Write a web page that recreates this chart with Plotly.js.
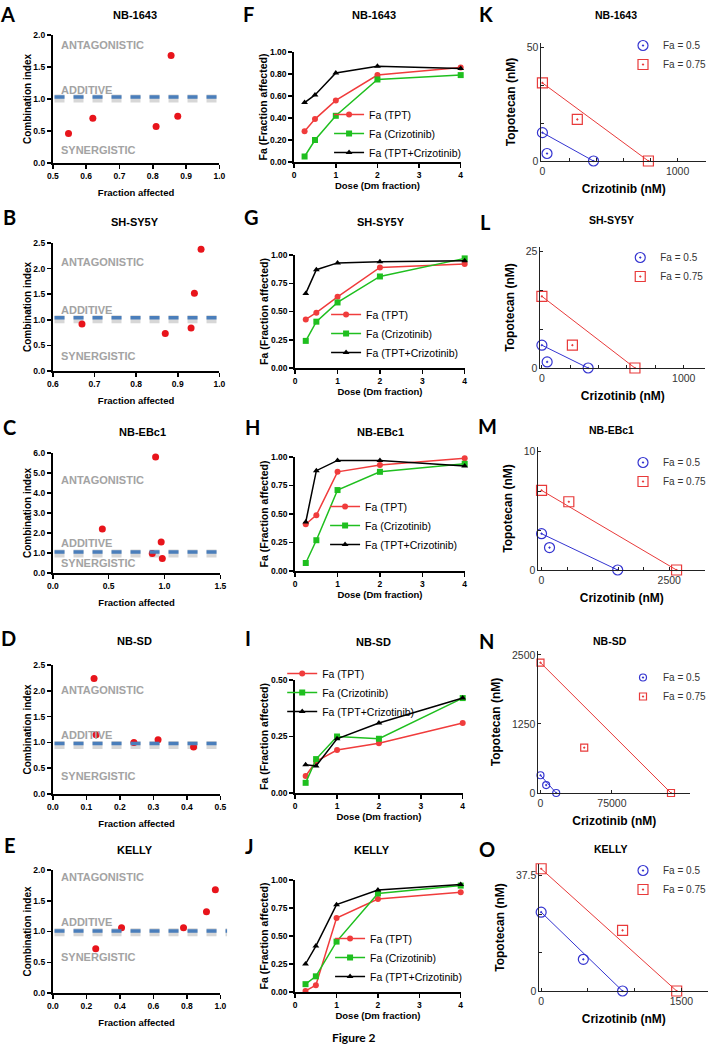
<!DOCTYPE html>
<html><head><meta charset="utf-8">
<script src="https://cdn.plot.ly/plotly-3.0.1.min.js"></script>
<style>html,body{margin:0;padding:0;background:#fff}#chart{width:711px;height:1050px}</style>
</head><body><div id="chart"></div>
<script>
// ================= DATA =================
const cellLines = ["NB-1643","SH-SY5Y","NB-EBc1","NB-SD","KELLY"];
const panelLetters = ["A","B","C","D","E","F","G","H","I","J","K","L","M","N","O"];
const zoneLabels = ["ANTAGONISTIC","ADDITIVE","SYNERGISTIC"];

// A–E : combination index vs fraction affected
const ciFa_A = [0.547,0.62,0.81,0.855,0.875];
const ci_A   = [0.46,0.70,0.57,1.68,0.73];
const ciFa_B = [0.67,0.87,0.932,0.94,0.956];
const ci_B   = [0.92,0.73,0.84,1.52,2.38];
const ciFa_C = [0.443,0.89,0.92,0.97,0.98];
const ci_C   = [2.2,0.97,5.8,1.55,0.72];
const ciFa_D = [0.123,0.129,0.242,0.314,0.42];
const ci_D   = [2.24,1.15,1.0,1.05,0.91];
const ciFa_E = [0.256,0.41,0.78,0.917,0.97];
const ci_E   = [0.72,1.06,1.06,1.32,1.68];
const additiveLevel = [1.03,1.04,1.05,0.98,1.01];

// F–J : Fa vs dose (Dm fraction)
const doseDm = [0.25,0.5,1,2,4];
const faTPT_F   = [0.28,0.39,0.56,0.79,0.86];
const faCriz_F  = [0.05,0.20,0.42,0.75,0.79];
const faCombo_F = [0.54,0.61,0.81,0.87,0.85];
const faTPT_G   = [0.43,0.49,0.63,0.89,0.92];
const faCriz_G  = [0.24,0.41,0.58,0.81,0.97];
const faCombo_G = [0.66,0.87,0.93,0.94,0.95];
const faTPT_H   = [0.41,0.49,0.87,0.93,0.99];
const faCriz_H  = [0.07,0.27,0.71,0.87,0.94];
const faCombo_H = [0.43,0.88,0.97,0.97,0.92];
const faTPT_I   = [0.075,0.14,0.19,0.22,0.31];
const faCriz_I  = [0.045,0.15,0.25,0.24,0.42];
const faCombo_I = [0.125,0.12,0.24,0.31,0.42];
const faTPT_J   = [0.01,0.06,0.66,0.83,0.89];
const faCriz_J  = [0.07,0.14,0.45,0.88,0.95];
const faCombo_J = [0.25,0.41,0.78,0.91,0.96];
const seriesNames = ["Fa (TPT)","Fa (Crizotinib)","Fa (TPT+Crizotinib)"];

// K–O : isobolograms (crizotinib nM, topotecan nM)
const isoCriz50_K = [0,34,378],    isoTopo50_K = [12.5,3.3,0];
const isoCriz75_K = [0,258,784],   isoTopo75_K = [34.4,18.3,0];
const isoCriz50_L = [0,37,326],    isoTopo50_L = [4.9,1.3,0];
const isoCriz75_L = [0,215,656],   isoTopo75_L = [15.4,4.9,0];
const isoCriz50_M = [0,156,1491],  isoTopo50_M = [3.07,1.9,0];
const isoCriz75_M = [0,534,2643],  isoTopo75_M = [6.73,5.77,0];
const isoCriz50_N = [0,5960,16500],  isoTopo50_N = [321,143,0];
const isoCriz75_N = [0,45900,137000],isoTopo75_N = [2360,821,0];
const isoCriz50_O = [0,451,871],   isoTopo50_O = [25.6,10.3,0];
const isoCriz75_O = [0,871,1450],  isoTopo75_O = [39.7,19.7,0];
const isoNames = ["Fa = 0.5","Fa = 0.75"];

// ================= LAYOUT HELPERS =================
const W=711,H=1050;
const xd=(a,b)=>[a/W,b/W];
const yd=(t,b)=>[1-b/H,1-t/H];
const px=x=>x/W, py=y=>1-y/H;
const FONT='Liberation Sans, Arial, sans-serif';
const LETTERFONT='Lato, Liberation Sans, sans-serif';

// plot boxes [left,right,top,bottom] in px
const boxes=[
 [53,220,35,163],[53,220,243,371],[53,221,453,573],[53,221,665,794],[53,221,870,993],
 [295,462,52,162],[296,466,255,368],[296,466,457,571],[296,464,680,793],[296,462,880,992],
 [543,708,43,161],[542,707,247,368],[540,707,447,570],[540,692,651,793],[541,710,864,991]
];
const titlePos=[[135,15],[135,222],[143,432],[135,641],[135,850],
 [375,15],[382,222],[382,432],[375,642],[373,850],
 [618,15],[613,220],[613,430],[612,641],[612,849]];
const letterPos=[[8,0],[10,217],[10,427],[9,638],[10,845],
 [249,0],[252,217],[253,427],[249,638],[250,846],
 [487,0],[487,222],[489,426],[488,641],[488,849]];

const data=[], annotations=[], shapes=[];
const layout={width:W,height:H,margin:{l:0,r:0,t:0,b:0},paper_bgcolor:'#fff',plot_bgcolor:'#fff',
  showlegend:true,font:{family:FONT,color:'#000'},hovermode:false};

const key=(n,a)=>n===1?a+'axis':a+'axis'+n;
const ref=(n,a)=>n===1?a:a+n;

function boldAxis(n,range,dtick,fmt,title,tsize,xy,standoff){
  const box=boxes[n-1];
  return {
    domain: xy==='x'?xd(box[0],box[1]):yd(box[2],box[3]),
    anchor: ref(n,xy==='x'?'y':'x'),
    range:range, dtick:dtick, tick0:0, tickformat:fmt,
    showline:true, linewidth:2, linecolor:'#000', ticks:'outside', ticklen:4, tickwidth:1.5, tickcolor:'#000',
    showgrid:false, zeroline:false, fixedrange:true,
    tickfont:{family:FONT,size:8.5,color:'#000',weight:'bold'},
    title:{text:title,font:{family:FONT,size:tsize,color:'#000',weight:'bold'},standoff:standoff}
  };
}

// ---------- A–E ----------
const ciX=[ciFa_A,ciFa_B,ciFa_C,ciFa_D,ciFa_E];
const ciY=[ci_A,ci_B,ci_C,ci_D,ci_E];
const ciXRange=[[0.5,1],[0.6,1],[0,1.5],[0,0.5],[0,1]];
const ciXStep=[0.1,0.1,0.5,0.1,0.2];
const ciYRange=[[0,2],[0,2.5],[0,6],[0,2.5],[0,2]];
const ciYStep=[0.5,0.5,1,0.5,0.5];
const zoneY=[[1.84,1.14,0.2],[2.13,1.2,0.29],[4.63,1.5,0.52],[2.02,1.14,0.35],[1.88,1.15,0.58]];
const lineEnd=[1,1,0.98,1,1.04];
for(let i=0;i<5;i++){
  const n=i+1;
  layout[key(n,'x')]=boldAxis(n,ciXRange[i],ciXStep[i],'.1f','Fraction affected',9.5,'x',9);
  layout[key(n,'y')]=boldAxis(n,ciYRange[i],ciYStep[i],'.1f','Combination index',10,'y',0);
  data.push({type:'scatter',mode:'markers',x:ciX[i],y:ciY[i],xaxis:ref(n,'x'),yaxis:ref(n,'y'),
    marker:{color:'#e8141b',size:7},showlegend:false,cliponaxis:false});
  // additive reference line (with soft shadow)
  shapes.push({type:'line',xref:ref(n,'x')+' domain',yref:ref(n,'y'),x0:0.01,x1:lineEnd[i],
    y0:additiveLevel[i]-(ciYRange[i][1]*0.012),y1:additiveLevel[i]-(ciYRange[i][1]*0.012),
    line:{color:'rgba(110,110,110,0.28)',width:8,dash:'10px,9px'},layer:'below'});
  shapes.push({type:'line',xref:ref(n,'x')+' domain',yref:ref(n,'y'),x0:0.01,x1:lineEnd[i],
    y0:additiveLevel[i],y1:additiveLevel[i],line:{color:'#4a7ebb',width:3.5,dash:'10px,9px'},layer:'above'});
  for(let z=0;z<3;z++){
    annotations.push({xref:ref(n,'x')+' domain',yref:ref(n,'y'),x:0.035,y:zoneY[i][z],xanchor:'left',yanchor:'middle',
      text:zoneLabels[z],showarrow:false,font:{family:FONT,size:11,color:'#a3a3a3',weight:'bold'}});
  }
}

// ---------- F–J ----------
const faSets=[[faTPT_F,faCriz_F,faCombo_F],[faTPT_G,faCriz_G,faCombo_G],[faTPT_H,faCriz_H,faCombo_H],
  [faTPT_I,faCriz_I,faCombo_I],[faTPT_J,faCriz_J,faCombo_J]];
const faYRange=[[0,1],[0,1],[0,1],[0,0.5],[0,1]];
const faYStep=[0.2,0.25,0.25,0.25,0.25];
const seriesColor=['#f03c3c','#1fbf1f','#000000'];
const seriesSymbol=['circle','square','triangle-up'];
const legPos2=[[330,100],[327,300],[326,492],[283,659],[331,924]];
for(let i=0;i<5;i++){
  const n=i+6;
  layout[key(n,'x')]=boldAxis(n,[0,4],1,'d','Dose (Dm fraction)',9.5,'x',1);
  layout[key(n,'y')]=boldAxis(n,faYRange[i],faYStep[i],'.2f','Fa (Fraction affected)',10.5,'y',0);
  const lg=i===0?'legend':'legend'+(i+1);
  for(let s=0;s<3;s++){
    data.push({type:'scatter',mode:'lines+markers',x:doseDm,y:faSets[i][s],xaxis:ref(n,'x'),yaxis:ref(n,'y'),
      name:seriesNames[s],legend:lg,line:{color:seriesColor[s],width:1.5},
      marker:{color:seriesColor[s],size:6,symbol:seriesSymbol[s]},cliponaxis:false});
  }
  layout[lg]={x:px(legPos2[i][0]),y:py(legPos2[i][1]),xanchor:'left',yanchor:'top',bgcolor:'rgba(0,0,0,0)',
    borderwidth:0,font:{family:FONT,size:10.5,color:'#000'},tracegroupgap:0};
}

// ---------- K–O ----------
const isoSets=[
 [isoCriz50_K,isoTopo50_K,isoCriz75_K,isoTopo75_K],
 [isoCriz50_L,isoTopo50_L,isoCriz75_L,isoTopo75_L],
 [isoCriz50_M,isoTopo50_M,isoCriz75_M,isoTopo75_M],
 [isoCriz50_N,isoTopo50_N,isoCriz75_N,isoTopo75_N],
 [isoCriz50_O,isoTopo50_O,isoCriz75_O,isoTopo75_O]];
const isoXRange=[[-7,1210],[-10,1150],[-60,3200],[-2100,157000],[-18,1785]];
const isoYRange=[[0,52],[0,26],[0,10.4],[0,2571],[0,41.25]];
const isoXTicks=[[0,200,400,600,800,1000],[0,200,400,600,800,1000],[0,500,1000,1500,2000,2500],[0,75000],[0,500,1000,1500]];
const isoXLab=[['0','','','','','1000'],['0','','','','','1000'],['0','','','','','2500'],['0','75000'],['0','','','1500']];
const isoYTicks=[[0,50/3,100/3,50],[0,25/3,50/3,25],[0,10/3,20/3,10],[0,1250,2500],[0,12.5,25,37.5]];
const isoYLab=[['0','','','50'],['0','','','25'],['0','','','10'],['0','1250','2500'],['0','','','37.5']];
const isoMarkerSize=[10,10,10,7,10];
const legPos3=[[625,31],[622,243],[625,448],[625,663],[625,856]];
const blue='#3434d0', red='#e83a3a';
for(let i=0;i<5;i++){
  const n=i+11, box=boxes[n-1];
  const thin=(xy,range,tv,tt,title,so)=>({
    domain: xy==='x'?xd(box[0],box[1]):yd(box[2],box[3]), anchor:ref(n,xy==='x'?'y':'x'),
    range:range, tickmode:'array', tickvals:tv, ticktext:tt,
    showline:true, linewidth:1, linecolor:'#222', ticks:'inside', ticklen:3, tickwidth:1, tickcolor:'#222',
    showgrid:false, zeroline:false, fixedrange:true,
    tickfont:{family:FONT,size:10.5,color:'#333'},
    title:{text:title,font:{family:FONT,size:12,color:'#000',weight:'bold'},standoff:so}});
  layout[key(n,'x')]=thin('x',isoXRange[i],isoXTicks[i],isoXLab[i],'Crizotinib (nM)',9);
  layout[key(n,'y')]=thin('y',isoYRange[i],isoYTicks[i],isoYLab[i],'Topotecan (nM)',8);
  const s=isoSets[i];
  const lg='legend'+(i+6);
  // isobole lines joining the single-agent doses
  data.push({type:'scatter',mode:'lines',x:[s[0][0],s[0][2]],y:[s[1][0],s[1][2]],xaxis:ref(n,'x'),yaxis:ref(n,'y'),
    line:{color:blue,width:1},showlegend:false,cliponaxis:false});
  data.push({type:'scatter',mode:'lines',x:[s[2][0],s[2][2]],y:[s[3][0],s[3][2]],xaxis:ref(n,'x'),yaxis:ref(n,'y'),
    line:{color:red,width:1},showlegend:false,cliponaxis:false});
  data.push({type:'scatter',mode:'markers',x:s[0],y:s[1],xaxis:ref(n,'x'),yaxis:ref(n,'y'),name:isoNames[0],legend:lg,
    marker:{symbol:'circle-open-dot',color:blue,size:isoMarkerSize[i],line:{width:1.2,color:blue}},cliponaxis:false});
  data.push({type:'scatter',mode:'markers',x:s[2],y:s[3],xaxis:ref(n,'x'),yaxis:ref(n,'y'),name:isoNames[1],legend:lg,
    marker:{symbol:'square-open-dot',color:red,size:isoMarkerSize[i],line:{width:1.2,color:red}},cliponaxis:false});
  layout[lg]={x:px(legPos3[i][0]),y:py(legPos3[i][1]),xanchor:'left',yanchor:'top',bgcolor:'rgba(0,0,0,0)',
    borderwidth:0,font:{family:FONT,size:10,color:'#333'},tracegroupgap:0};
}

// ---------- titles & panel letters ----------
for(let k=0;k<15;k++){
  annotations.push({xref:'paper',yref:'paper',x:px(titlePos[k][0]),y:py(titlePos[k][1]),xanchor:'center',yanchor:'middle',
    text:cellLines[k%5],showarrow:false,font:{family:FONT,size:k>=10?10.5:11,color:'#000',weight:'bold'}});
  const top=letterPos[k][1]===0;
  annotations.push({xref:'paper',yref:'paper',x:px(letterPos[k][0]),y:top?1:py(letterPos[k][1]),xanchor:'center',
    yanchor:top?'top':'middle',text:panelLetters[k],showarrow:false,
    font:{family:LETTERFONT,size:20,color:'#000',weight:'bold'}});
}
annotations.push({xref:'paper',yref:'paper',x:px(355),y:py(1037),xanchor:'center',yanchor:'middle',
  text:'Figure 2',showarrow:false,font:{family:LETTERFONT,size:12,color:'#000',weight:'bold'}});

layout.annotations=annotations;
layout.shapes=shapes;
Plotly.newPlot('chart',data,layout,{staticPlot:true,displayModeBar:false});
</script></body></html>
